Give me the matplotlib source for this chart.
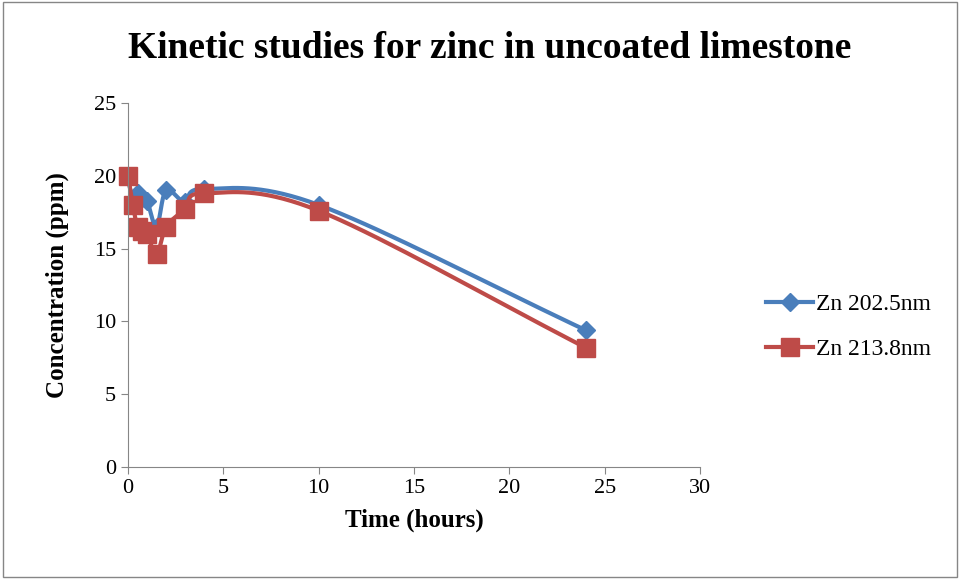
import numpy as np
import matplotlib
matplotlib.use('Agg')
import matplotlib.pyplot as plt

plt.rcParams['font.family'] = ['Liberation Serif', 'DejaVu Serif']

time_h = [0, 0.25, 0.5, 0.75, 1, 1.5, 2, 3, 4, 10, 24]
zn_2025 = [20, 18.2, 18.8, 18.5, 18.3, 16.5, 19, 18.2, 19.1, 18, 9.4]
zn_2138 = [20, 18, 16.5, 16.2, 16, 14.6, 16.5, 17.7, 18.8, 17.6, 8.2]


def smooth(x, y, n=20):
    # Catmull-Rom style smoothing like Excel's smoothed lines
    x = np.asarray(x, float)
    y = np.asarray(y, float)
    px = np.concatenate([[2 * x[0] - x[1]], x, [2 * x[-1] - x[-2]]])
    py = np.concatenate([[2 * y[0] - y[1]], y, [2 * y[-1] - y[-2]]])
    xs, ys = [], []
    t = np.linspace(0, 1, n)
    for i in range(1, len(px) - 2):
        for arr, out in ((px, xs), (py, ys)):
            p0, p1, p2, p3 = arr[i - 1:i + 3]
            m1 = (p2 - p0) / 6
            m2 = (p3 - p1) / 6
            c1 = p1 + m1
            c2 = p2 - m2
            out.extend((1 - t) ** 3 * p1 + 3 * (1 - t) ** 2 * t * c1
                       + 3 * (1 - t) * t ** 2 * c2 + t ** 3 * p2)
    return xs, ys


fig = plt.figure(figsize=(9.6, 5.79), dpi=100)
ax = fig.add_axes([128 / 960, 1 - 467 / 579, 572 / 960, 364 / 579])

blue = '#4a7ebb'
red = '#be4b48'
sx, sy = smooth(time_h, zn_2025)
ax.plot(sx, sy, color=blue, lw=3, clip_on=False)
ax.plot(time_h, zn_2025, ls='none', marker='D', ms=9, color=blue, clip_on=False)
sx, sy = smooth(time_h, zn_2138)
ax.plot(sx, sy, color=red, lw=3, clip_on=False)
ax.plot(time_h, zn_2138, ls='none', marker='s', ms=13, color=red, clip_on=False)

ax.plot([], [], color=blue, lw=3, marker='D', ms=9, label='Zn 202.5nm')
ax.plot([], [], color=red, lw=3, marker='s', ms=13, label='Zn 213.8nm')

ax.set_xlim(0, 30)
ax.set_ylim(0, 25)
ax.set_xticks(range(0, 31, 5))
ax.set_yticks(range(0, 26, 5))
ax.tick_params(labelsize=16, direction='out', length=5, color='#868686')
for s in ['top', 'right']:
    ax.spines[s].set_visible(False)
for s in ['left', 'bottom']:
    ax.spines[s].set_color('#868686')

ax.set_xlabel('Time (hours)', fontsize=18, fontweight='bold', labelpad=8)
ax.set_ylabel('Concentration (ppm)', fontsize=18, fontweight='bold', labelpad=18)
fig.text(0.51, 0.90, 'Kinetic studies for zinc in uncoated limestone',
         ha='center', fontsize=27, fontweight='bold')

fig.legend(loc='center left', bbox_to_anchor=(745 / 960, 1 - 327 / 579),
           frameon=False, fontsize=17, handlelength=2.0, handletextpad=0.1,
           labelspacing=1.0)

fig.patches.append(plt.Rectangle((0.003, 0.003), 0.994, 0.994, fill=False,
                                 edgecolor='#868686', lw=1,
                                 transform=fig.transFigure))
fig.savefig('out.png', dpi=100)
